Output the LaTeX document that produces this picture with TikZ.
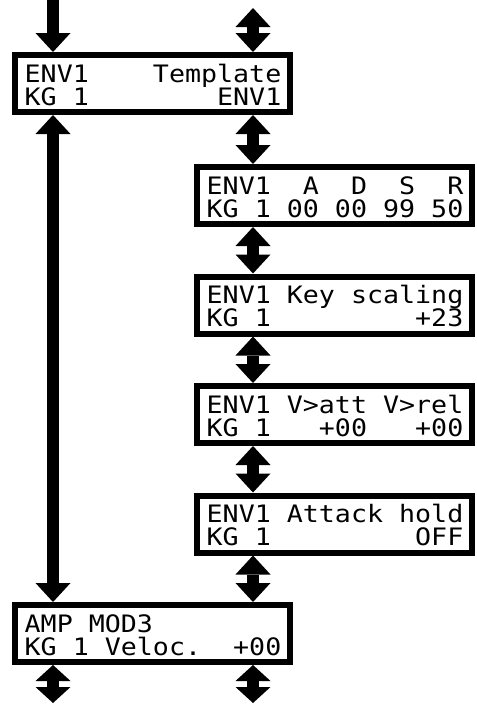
\documentclass[tikz,border=0pt]{standalone}
\usepackage{fontspec}
\newfontfamily\lcdfont[FakeStretch=1.11]{DejaVu Sans Mono}
\usetikzlibrary{arrows.meta}

\begin{document}
\begin{tikzpicture}[
  x=1pt, y=-1pt,
  lcd/.style={draw=black, line width=6pt, fill=white, minimum width=275pt,
              minimum height=57pt, inner sep=0pt},
  row/.style={anchor=base west, inner sep=0pt,
              font=\lcdfont\fontsize{24}{24}\selectfont},
  flow/.style={line width=12.5pt,
               -{Triangle[length=19pt,width=35pt,line width=0pt]}},
  both/.style={line width=12.5pt,
               {Triangle[length=#1,width=35pt,line width=0pt]}-{Triangle[length=#1,width=35pt,line width=0pt]}},
  both/.default=19pt,
]
\useasboundingbox (0,0) rectangle (477,713);

% ---------------- free ends ----------------
\coordinate (in1)  at (53,0);
\coordinate (in2)  at (253,8);
\coordinate (out1) at (53,703);
\coordinate (out2) at (253,703);

% ---------------- template ----------------
\node[lcd] (tmpl) at (152.5,83.5) {};
\node[row] (tmpl1) at ([shift={(-128,-1.5)}]tmpl.center) {ENV1~~~~Template};
\node[row] (tmpl2) at ([shift={(-128,21.5)}]tmpl.center) {KG~1~~~~~~~~ENV1};

% ---------------- envelope pages (right) ----------------
\node[lcd] (adsr) at (334.5,195.5) {};
\node[row] (adsr1) at ([shift={(-128,-1.5)}]adsr.center) {ENV1~~A~~D~~S~~R};
\node[row] (adsr2) at ([shift={(-128,21.5)}]adsr.center) {KG~1~00~00~99~50};

\node[lcd] (keysc) at (334.5,305) {};
\node[row] (keysc1) at ([shift={(-128,-1.5)}]keysc.center) {ENV1~Key~scaling};
\node[row] (keysc2) at ([shift={(-128,21.5)}]keysc.center) {KG~1~~~~~~~~~+23};

\node[lcd] (vel) at (334.5,414.5) {};
\node[row] (vel1) at ([shift={(-128,-1.5)}]vel.center) {ENV1~V>att~V>rel};
\node[row] (vel2) at ([shift={(-128,21.5)}]vel.center) {KG~1~~~+00~~~+00};

\node[lcd] (hold) at (334.5,524) {};
\node[row] (hold1) at ([shift={(-128,-1.5)}]hold.center) {ENV1~Attack~hold};
\node[row] (hold2) at ([shift={(-128,21.5)}]hold.center) {KG~1~~~~~~~~~OFF};

% ---------------- amp modulation ----------------
\node[lcd] (amp) at (152.5,633.5) {};
\node[row] (amp1) at ([shift={(-128,-1.5)}]amp.center) {AMP~MOD3};
\node[row] (amp2) at ([shift={(-128,21.5)}]amp.center) {KG~1~Veloc.~~+00};

% ---------------- arrows ----------------
\draw[flow] (in1) -- (tmpl.north -| in1);
\draw[both] (in2) -- (tmpl.north -| in2);
\draw[both] (tmpl.south -| in1) -- (amp.north -| in1);
\draw[both] (tmpl.south -| in2) -- (adsr.north -| in2);
\draw[both] (adsr.south -| in2) -- (keysc.north -| in2);
\draw[both] (keysc.south -| in2) -- (vel.north -| in2);
\draw[both] (vel.south -| in2) -- (hold.north -| in2);
\draw[both] (hold.south -| in2) -- (amp.north -| in2);
\draw[both=16pt] (amp.south -| in1) -- (out1);
\draw[both=16pt] (amp.south -| in2) -- (out2);

\end{tikzpicture}
\end{document}
